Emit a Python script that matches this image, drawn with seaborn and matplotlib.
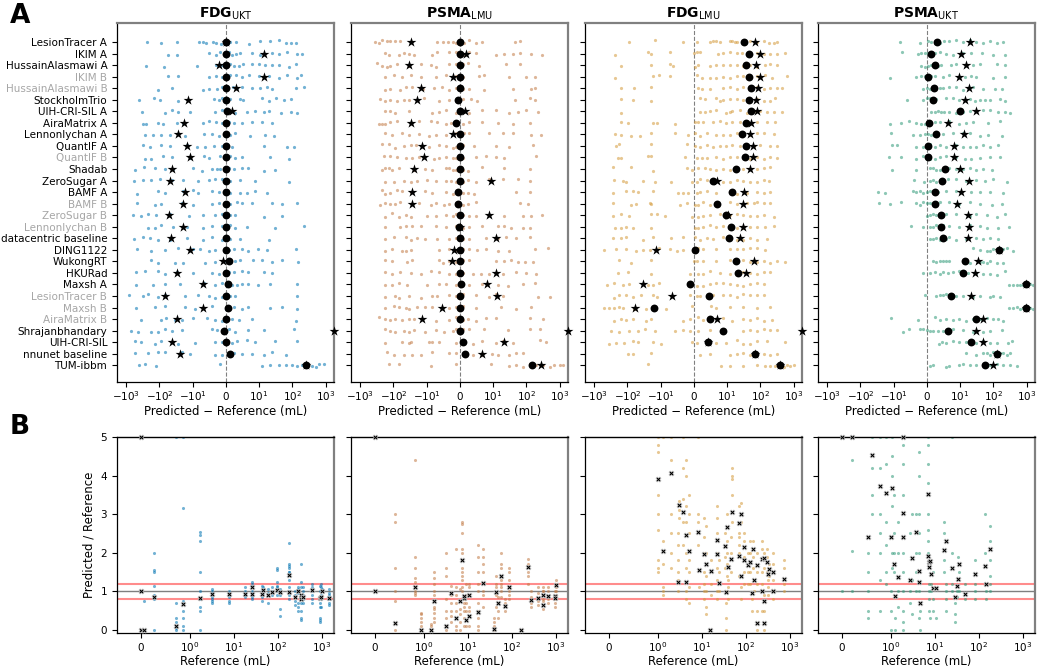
import numpy as np
import pandas as pd
import seaborn as sns
import matplotlib.pyplot as plt
from matplotlib.ticker import NullLocator

teams = ["LesionTracer A", "IKIM A", "HussainAlasmawi A", "IKIM B", "HussainAlasmawi B",
         "StockholmTrio", "UIH-CRI-SIL A", "AiraMatrix A", "Lennonlychan A", "QuantIF A",
         "QuantIF B", "Shadab", "ZeroSugar A", "BAMF A", "BAMF B", "ZeroSugar B",
         "Lennonlychan B", "datacentric baseline", "DING1122", "WukongRT", "HKURad",
         "Maxsh A", "LesionTracer B", "Maxsh B", "AiraMatrix B", "Shrajanbhandary",
         "UIH-CRI-SIL", "nnunet baseline", "TUM-ibbm"]
secondary = ["IKIM B", "HussainAlasmawi B", "QuantIF B", "BAMF B", "ZeroSugar B",
             "Lennonlychan B", "LesionTracer B", "Maxsh B", "AiraMatrix B"]

# ---- panel A: per-team median (dot) and mean (star) of Predicted - Reference (mL)
fdg_ukt_median = [0, 0, 0, 0, 0, 0, 0.3, 0, 0, 0, 0, 0, 0, 0, 0, 0, 0, 0, 0, 0.9, 0, 0.6, 0, 0.6, 0, -0.5, 0.1, 1.2, 250]
fdg_ukt_mean = [0, 14.5, -2, 14.5, 3.1, -14, 1.7, -18, -27, -15, -12, -42, -48, -17, -19, -51, -19, -45, -12, -1, -30, -6.9, -70, -6.9, -30, 1800, -42, -24, 250]
psma_lmu_median = [0, 0, 0, 0, 0, -0.6, 0, -1.1, 0, 0, 0, 0, 0, -0.7, -0.7, 0, -0.2, 0, -0.1, 0, 0, 0.3, -0.1, 0, 0, -0.1, 0.8, 1.5, 150]
psma_lmu_mean = [-30, 1.7, -35, -2.1, -15, -20, 1.6, -29, -2, -14, -12, -24, 9.4, -28, -28, 8.9, 0, 12, -1.7, -2.5, 12, 8.1, 13.5, -5.5, -13.5, 1800, 21, 6.6, 270]
fdg_lmu_median = [33, 45, 37, 45, 54, 46, 52, 38, 28, 38, 34, 19, 5.9, 14, 7.1, 9.8, 13.5, 11.5, 0.3, 18, 22, -1.1, 4.6, -16, 4.9, 8.7, 4.3, 67, 400]
fdg_lmu_mean = [70, 95, 76, 95, 83, 74, 81, 51, 48, 59, 60, 50, 7.1, 32, 31, 10.5, 30, 25, -14, 63, 36, -35, -6.5, -61, 6.9, 1800, 4.3, 70, 400]
psma_ukt_median = [3.1, 1.1, 2.4, 0.3, 2.2, 1.7, 10.2, 0.6, 2.8, 0.4, 0.2, 5.6, 4.6, 2.3, 2.4, 4.3, 4.2, 5, 145, 14, 12.3, 950, 7.4, 950, 30, 6.4, 22, 126, 56]
psma_ukt_mean = [20, 11, 15, 9.8, 18, 14, 30, 6.5, 13.5, 8.3, 8.1, 10.2, 18, 10.7, 9, 17, 18, 17, 145, 35, 28, 950, 21, 950, 48, 30, 48, 126, 100]

# per-case differences for each team (one list per team, in team order)
fdg_ukt_dots = [
    [-235, -87, -30, -8, -7, -6, -4, -3, -1.5, 0, 0.6, 1.3, 3, 7, 11, 21, 40, 63, 89, 125],
    [-57, -30, -5, -3, -1.7, -0.7, 0.8, 1.8, 3, 4.3, 8, 10.5, 25, 40, 70, 140, 190],
    [-260, -72, -8.7, -3, -1.2, 0.3, 1.3, 2.3, 4, 5.3, 8, 10, 15, 25, 40, 80, 126],
    [-57, -28, -5, -3, -1.2, 0.3, 1.3, 3, 5, 7, 10, 20, 40, 70, 140, 180],
    [-110, -43, -7, -5, -2.7, -1.2, 0.6, 2, 3.3, 5, 8, 11, 17, 25, 125, 225],
    [-400, -150, -97, -27, -3.7, -2.2, -1.2, 0, 1.3, 4.3, 5.3, 12, 20, 32, 56, 89],
    [-335, -70, -43, -27, -12, -3.2, -1.2, 0.3, 1.8, 2.8, 6.3, 8.8, 14, 20, 45, 89, 140],
    [-315, -250, -110, -77, -30, -19, -7, -5, -3, -1.2, 0.8, 2.3, 4.8, 8, 12, 25],
    [-280, -155, -87, -48, -27, -17, -6.7, -4.2, -2.2, 0, 1.3, 2.8, 7.3, 15, 28],
    [-315, -195, -87, -48, -15, -8.7, -6.2, -3.7, -1.2, 0.3, 1.8, 14, 70, 112],
    [-280, -175, -77, -43, -12, -6.7, -5.2, -1.7, 0, 1.3, 2.8, 4.8, 22, 80],
    [-530, -290, -140, -70, -39, -10, -7.3, -4.2, -2.7, -1.7, 0, 0.8, 2.3, 4.8, 6.8, 14, 30],
    [-580, -315, -175, -98, -43, -19, -8.3, -5.2, -3.2, -1.2, 0, 1.3, 4.3, 8.8, 80],
    [-470, -110, -70, -19, -10, -8.3, -4.2, -2.2, 0, 1.3, 4.3, 6.3, 8.8, 17],
    [-470, -140, -87, -21, -9.8, -4.2, -2.2, 0, 1.3, 3.3, 4.8, 7.8, 25, 50, 140],
    [-630, -350, -220, -123, -48, -13, -6.8, -3.2, -1.2, 0, 1.3, 2.8, 14, 50],
    [-220, -140, -87, -39, -15, -6.8, -4.2, -1.2, 0.3, 1.3, 2.8, 6.3, 30, 225],
    [-580, -315, -195, -110, -48, -15, -6.8, -4.2, -1.2, 0, 1.3, 4.3, 20],
    [-470, -175, -70, -27, -10, -7.7, -5.2, -3.2, -0.7, 0.8, 2.3, 4.8, 6.8, 9.8, 17, 125],
    [-175, -110, -34, -19, -6.2, -3.2, -0.7, 1.3, 2.8, 4.3, 8.3, 12, 25, 50, 150],
    [-500, -280, -110, -70, -30, -10, -4.2, -2.2, -0.7, 0.8, 2.3, 4.8, 6.8, 14, 25],
    [-500, -155, -70, -24, -6.7, -3.2, -1.2, 0.8, 1.8, 3.3, 4.8, 6.8, 9.8, 22, 140],
    [-800, -315, -220, -110, -70, -17, -8.3, -5.2, -3.2, -1.2, 0.3, 1.3, 2.8, 140],
    [-500, -140, -70, -17, -9.3, -4.2, 0, 1.3, 2.3, 4.8, 6.8, 22, 50, 140],
    [-350, -87, -62, -34, -21, -10, -5.7, -3.2, -1.2, 0.3, 1.8, 3.8, 7.8, 125],
    [-700, -440, -175, -110, -70, -43, -21, -4.2, -2.7, -1.2, 0, 0.8, 2.8, 6.8, 14, 112],
    [-560, -350, -140, -87, -27, -9.3, -3.2, -1.2, 0.3, 1.8, 3.3, 6.3, 8.8, 30, 140],
    [-560, -220, -110, -70, -21, -12, -3.2, -1.2, 0.8, 2.3, 4.8, 7.8, 14, 25, 63],
    [-400, -280, -125, -1.7, 12, 22, 40, 63, 100, 140, 200, 280, 400, 500, 630, 900],
]
psma_lmu_dots = [
    [-350, -280, -220, -155, -123, -87, -62, -6.8, -5.2, -3.7, -2.2, -1.2, 0.3, 1.3, 2.8, 4.8, 6.8, 45, 63],
    [-175, -140, -70, -48, -35, -24, -8.3, -6.8, -3.2, -1.2, 0.8, 2.8, 4.8, 12, 22, 40, 63, 140, 300],
    [-315, -220, -155, -123, -78, -35, -15, -8.8, -7.3, -3.2, -1.2, 0.8, 2.3, 5.8, 25, 63],
    [-175, -98, -55, -30, -15, -7.3, -4.2, -1.2, 0.8, 5.8, 7.3, 31, 100, 180],
    [-175, -123, -62, -43, -27, -13, -7.8, -5.3, -3.2, -1.2, 0.8, 2.8, 7.3, 40, 140, 180],
    [-250, -175, -123, -78, -48, -35, -12, -6.3, -3.2, -1.2, 0.8, 3.3, 5.3, 45, 125, 180],
    [-175, -123, -87, -35, -8.3, -6.3, -4.2, -1.2, 0.8, 2.8, 6.8, 12, 31, 56, 100, 225],
    [-280, -220, -175, -123, -78, -17, -8.8, -6.8, -4.2, -2.7, -1.2, 0.8, 2.8, 6.8, 14, 40, 125],
    [-175, -110, -55, -35, -17, -9.3, -7.3, -4.2, -1.2, 1.3, 2.8, 8.8, 20, 40, 140, 280],
    [-220, -140, -87, -48, -30, -21, -9.3, -6.3, -4.2, -2.2, -1.2, 0.8, 4.3, 12, 31, 160],
    [-195, -123, -78, -43, -27, -17, -7.8, -6.3, -4.2, -2.2, -1.2, 0.8, 4.8, 7.8, 12, 22, 200],
    [-220, -175, -140, -110, -70, -24, -11, -8.3, -4.2, -3.2, -2.2, -1.2, 0.8, 2.3, 6.8, 22, 125],
    [-175, -98, -48, -30, -19, -9.8, -7.3, -4.2, -2.7, -1.2, 0.8, 2.3, 4.8, 8.8, 20, 56, 125],
    [-220, -175, -123, -78, -55, -30, -11, -8.3, -4.2, -2.2, -1.2, 0.8, 2.3, 4.3, 50, 125],
    [-250, -175, -123, -87, -62, -27, -17, -8.8, -7.3, -4.7, -3.2, -1.2, 0.8, 2.3, 4.8, 63, 112],
    [-175, -110, -70, -43, -30, -10, -7.3, -4.2, -2.2, -1.2, 0.8, 2.8, 4.8, 22, 80, 140, 300],
    [-175, -62, -43, -27, -15, -7.3, -4.2, -1.2, 0.8, 2.8, 6.8, 14, 22, 35, 80, 125],
    [-175, -98, -43, -30, -19, -11, -6.8, -3.2, -1.2, 0.8, 2.8, 7.8, 14, 25, 50, 125],
    [-175, -110, -55, -43, -30, -6.3, -3.2, -1.2, 0.8, 2.8, 5.3, 7.8, 14, 31, 180, 450],
    [-175, -110, -39, -27, -6.3, -5.2, -3.2, -1.2, 0.8, 2.8, 12, 22, 35, 56, 89, 160],
    [-175, -110, -62, -30, -15, -8.8, -6.3, -3.2, -1.2, 0.8, 3.8, 6.3, 8.8, 20, 50, 100, 200],
    [-175, -110, -70, -39, -10, -6.3, -4.2, -1.2, 0.8, 2.8, 6.8, 14, 28, 80, 180],
    [-175, -87, -70, -35, -15, -8.3, -6.8, -3.2, -1.2, 0.8, 4.8, 8.8, 12, 20, 225, 500],
    [-175, -98, -70, -43, -35, -19, -11, -8.3, -3.2, -1.2, 0.8, 4.8, 17, 50, 140],
    [-280, -175, -123, -87, -55, -35, -24, -7.3, -3.2, -1.2, 0.8, 2.3, 4.8, 7.8, 12, 125, 320],
    [-175, -123, -87, -48, -35, -24, -11, -7.3, -4.7, -2.2, -1.2, 0.8, 2.8, 7.3, 28, 125, 250],
    [-175, -55, -35, -30, -9.3, -8.3, -6.3, -1.2, 1.3, 3.8, 6.8, 12, 20, 40, 250, 400],
    [-155, -98, -48, -27, -15, -8.3, -3.2, -1.2, 1.8, 3.8, 6.8, 9.8, 14, 31, 50, 80],
    [-140, -70, -8.8, -1.2, 9.4, 31, 50, 80, 125, 200, 320, 500, 700, 1000, 1250],
]
fdg_lmu_dots = [
    [-93, -15, -3.2, 0.8, 4.8, 5.8, 6.8, 7.8, 12, 14, 17, 20, 50, 80, 125, 180, 250, 320],
    [-235, -24, -19, -7.3, 0, 0.8, 1.8, 7.3, 8.8, 12, 20, 28, 45, 80, 125, 200, 320, 560],
    [-160, -19, -7.3, -6.3, 0.3, 1.3, 4.8, 6.8, 8.8, 12, 20, 31, 50, 80, 140, 200, 320],
    [-235, -17, -11, -7.3, 0.8, 2.3, 4.8, 6.8, 8.8, 12, 20, 31, 50, 80, 140, 225, 630],
    [-160, -62, -19, 1.3, 2.3, 4.8, 8.8, 12, 20, 31, 50, 80, 125, 200, 320, 450],
    [-160, -70, -19, 1.8, 3.3, 6.8, 7.8, 8.8, 12, 20, 31, 50, 80, 125, 200, 280],
    [-160, 1.8, 3.3, 4.8, 6.8, 9.8, 12, 14, 25, 40, 63, 100, 160, 250, 450],
    [-160, -98, -17, -13, -5.7, 0.3, 1.3, 2.8, 5.8, 7.8, 9.8, 14, 25, 40, 80, 160, 280],
    [-235, -155, -78, -43, -19, -5.7, -1.7, 0.3, 1.8, 3.8, 6.8, 8.8, 12, 20, 31, 50, 80, 125, 250],
    [-220, -175, -19, -2.2, 0.3, 1.8, 3.8, 5.8, 7.8, 9.8, 14, 25, 40, 63, 100, 200, 320],
    [-195, -155, -24, -19, -2.7, 0.8, 2.3, 3.8, 6.8, 8.8, 12, 20, 31, 50, 80, 125, 200, 320],
    [-265, -78, -17, -2.2, -0.7, 1.3, 3.3, 4.8, 6.8, 8.8, 12, 20, 31, 80, 125, 200],
    [-250, -140, -110, -35, -15, -6.8, -0.7, 0.8, 1.8, 3.8, 6.3, 8.8, 12, 20, 31, 50, 80, 125, 180],
    [-265, -110, -70, -48, -17, -4.7, -3.2, -1.7, 0.8, 1.8, 3.8, 6.8, 12, 20, 40, 80, 125, 200],
    [-265, -78, -55, -21, -19, -4.2, -2.2, 0.3, 1.3, 2.8, 4.8, 6.8, 12, 20, 40, 63, 80, 125, 200],
    [-265, -155, -87, -19, -13, -8.8, -0.7, 1.3, 2.8, 4.8, 7.8, 12, 20, 31, 50, 80, 125, 250],
    [-235, -155, -110, -70, -19, 0.3, 1.3, 2.8, 4.8, 6.8, 8.8, 12, 20, 31, 50, 80, 140, 250],
    [-265, -155, -110, -35, -17, -6.8, -3.2, 0.3, 1.8, 3.8, 5.8, 8.8, 12, 20, 31, 50, 80, 160],
    [-500, -220, -110, -55, -35, -21, -11, -7.3, -5.2, -3.2, 0, 1.3, 2.8, 6.8, 12, 20, 31, 50, 80, 140],
    [-175, -78, -19, 0, 0.8, 2.8, 6.8, 12, 20, 31, 50, 80, 125, 200, 320, 560],
    [-195, -98, -19, -1.2, 1.3, 2.8, 4.8, 7.8, 12, 20, 31, 50, 80, 125, 200],
    [-400, -250, -140, -87, -24, -17, -11, 0.8, 2.8, 4.8, 6.8, 8.8, 12, 20, 31, 50, 80, 125],
    [-250, -175, -110, -70, -39, -17, -13, -1.2, 0.8, 1.8, 5.8, 8.8, 12, 20, 31, 50, 80, 125],
    [-500, -350, -250, -175, -140, -62, -27, -17, -8.3, -0.7, 5.3, 6.8, 12, 31, 80, 200],
    [-250, -155, -110, -70, -27, -19, -3.2, -1.2, 1.3, 2.8, 4.8, 8.8, 14, 31, 50, 80, 125, 225],
    [-315, -175, -87, -48, -30, -15, -5.7, -3.2, -1.2, 1.3, 4.8, 8.8, 31, 50, 80, 125, 200, 320],
    [-350, -220, -123, -70, -48, -17, -10, -0.7, 0.8, 6.8, 9.8, 20, 31, 50, 80, 160, 560],
    [-98, -70, -19, 1.8, 4.8, 12, 20, 31, 50, 80, 125, 200, 320],
    [-24, 8.3, 12, 31, 80, 140, 200, 280, 400, 500, 630, 800, 1000],
]
psma_ukt_dots = [
    [-8, -2, 0.3, 1.3, 2.3, 3.8, 5.3, 6.8, 8.8, 12, 20, 31, 50, 80, 125, 200],
    [-7.4, -2.7, -1.7, -0.7, 0.3, 1.3, 2.3, 3.8, 5.8, 7.8, 12, 22, 45, 100, 225],
    [-1.7, -0.7, 0.3, 1.3, 2.3, 3.3, 4.3, 7.3, 8.8, 15, 25, 40, 125, 225],
    [-13, -3.2, -1.7, -0.7, 0.3, 1.3, 2.3, 4.8, 6.8, 14, 22, 31, 100, 225],
    [-1.2, 0, 0.8, 1.8, 2.8, 3.8, 4.8, 6.8, 8.8, 12, 25, 50, 112, 180],
    [-6, -1.2, 0, 0.8, 1.8, 2.8, 5.8, 7.8, 9.8, 20, 28, 40, 56, 80, 160, 225],
    [1.3, 2.3, 3.3, 4.3, 5.3, 6.8, 8.8, 12, 20, 31, 50, 80, 140, 225, 320],
    [-13, -7.8, -5.3, -3.2, -1.7, -0.7, 0.3, 1.3, 2.3, 3.8, 6.8, 9.8, 15, 25, 70, 160],
    [-12, -4.2, -2.2, -0.7, 0.3, 1.3, 2.8, 4.8, 7.8, 12, 20, 40, 70, 180],
    [-11, -9.1, -3.2, -1.2, 0, 0.8, 2.3, 3.8, 5.8, 8.8, 12, 20, 31, 50, 80, 140],
    [-13.5, -7.8, -3.2, -1.2, 0, 0.8, 2.3, 3.8, 5.8, 8.8, 14, 22, 40, 80, 160],
    [-11, -3.4, 0.8, 1.8, 2.8, 3.8, 5.3, 6.8, 8.8, 12, 20, 31, 50, 90],
    [-4, -1, 0.8, 1.8, 2.8, 3.8, 4.8, 6.3, 8.8, 15, 31, 56, 100, 250],
    [-30, -18, -4.2, -3.2, -2.2, -1.2, 0, 0.8, 1.8, 3.3, 5.8, 8.8, 22, 40, 80, 200],
    [-28, -13, -7.8, -3.2, -2.2, -1.2, 0, 0.8, 2.3, 3.8, 6.8, 9.8, 20, 40, 90, 180],
    [0, 0.8, 1.8, 2.8, 3.8, 4.8, 5.8, 8.8, 20, 31, 63, 125, 225],
    [-4.9, -1.2, 0.8, 1.8, 2.8, 3.8, 4.8, 6.8, 9.8, 20, 40, 63, 140, 300],
    [0.8, 1.8, 2.8, 3.8, 4.8, 5.8, 6.8, 8.8, 15, 31, 50, 80, 140],
    [25, 40, 63, 80, 100, 125, 160, 200, 250, 400],
    [1.8, 2.8, 3.8, 4.8, 5.8, 6.8, 20, 40, 50, 63, 80, 125, 200],
    [-1.2, 0.8, 2.3, 3.8, 4.8, 6.3, 7.8, 9.8, 17, 31, 50, 80, 125, 225],
    [300, 400, 500, 630, 800, 1000, 1300, 1600, 1800],
    [-0.7, 2.8, 3.8, 4.8, 5.8, 6.8, 7.8, 8.8, 12, 25, 40, 80, 100, 160],
    [300, 400, 500, 630, 800, 1000, 1300, 1600, 1800],
    [-12, -2.7, 2.3, 3.8, 5.8, 7.8, 9.8, 15, 25, 40, 63, 100, 140, 200],
    [-7.3, -5.3, -2.2, -1.2, 0, 0.8, 1.8, 3.3, 4.8, 7.8, 12, 25, 50, 80, 180],
    [3.6, 4.6, 5.8, 7.8, 9.8, 15, 20, 25, 31, 50, 80, 125, 280, 360],
    [15, 31, 50, 63, 80, 100, 125, 160, 200, 250, 320],
    [0.8, 1.8, 5.8, 6.8, 9.8, 12, 20, 31, 50, 80, 125, 200, 320, 500],
]

# ---- panel B: per case reference volume, median ratio and team ratios (clipped at 5)
fdg_ukt_ref = [0, 0, 0, 0.05, 0.25, 0.72, 0.85, 1.7, 3.2, 7.5, 18, 26, 26, 43, 45, 58, 72, 95, 110, 178, 182, 250, 290, 330, 330, 380, 600, 890, 980, 1000, 1480]
fdg_ukt_ratio = [5, 1.0, 0, 0, 0.86, 0.1, 0.67, 0.82, 0.93, 0.93, 0.93, 1.1, 0.93, 0.93, 1.04, 0.91, 0.98, 1.04, 0.97, 0.98, 1.43, 0.85, 1.0, 0.91, 0.8, 0.86, 1.04, 0.82, 0.86, 1.02, 0.84]
fdg_ukt_team_ratios = [
    [5], [1.0], [0], [0, 0.75], [2.0, 1.55, 1.5, 1.15, 0.9, 0.8, 0], [5, 0.7, 0.3, 0.2, 0.1, 0.05, 0],
    [5, 3.15, 0.75, 0.5, 0.3, 0.1, 0], [2.55, 2.45, 2.3, 1.5, 1.0, 0.8, 0.6, 0.5, 0],
    [1.05, 1.0, 0.95, 0.85, 0.8, 0.75, 0.7], [1.0, 0.95, 0.85, 0.75, 0.7], [1.1, 1.0, 0.9, 0.85],
    [1.25, 1.2, 1.1, 1.0, 0.95, 0.8], [0.9, 0.85], [1.15, 1.0, 0.85, 0.75], [1.1, 0.95],
    [1.05, 0.95, 0.9, 0.7], [1.1, 1.0, 0.9], [1.6, 1.55, 1.25, 1.15, 1.1, 1.0, 0.9],
    [1.05, 0.9, 0.55, 0.35], [1.7, 1.65, 1.6, 1.5, 1.3, 1.1, 1.0, 0.9, 0.8], [2.25, 1.5],
    [1.0, 0.9, 0.85, 0.75, 0.65], [1.1, 1.05, 0.95, 0.7, 0.6, 0.5], [1.7, 1.25, 1.1, 0.7],
    [0.5, 0.3, 0.25], [1.1, 1.0, 0.9, 0.8, 0.7], [1.2, 1.1, 1.0, 0.9, 0.8, 0.7],
    [1.15, 1.0, 0.7, 0.6, 0.3, 0.25, 0.2], [1.2, 1.1, 1.0, 0.9, 0.8, 0.6], [1.05],
    [1.05, 0.95, 0.9, 0.8, 0.7, 0.65],
]
psma_lmu_ref = [0, 0, 0.41, 0.82, 0.94, 1.47, 1.7, 3.2, 4.2, 5.2, 6.6, 7.3, 8, 8, 8.9, 10.4, 10.4, 17, 22, 40, 43, 47, 56, 69, 85, 158, 235, 275, 390, 500, 510, 660, 950, 960, 1000]
psma_lmu_ratio = [5, 1.0, 0.19, 1.1, 0, 0, 0.76, 0.1, 0.95, 0.32, 0.76, 1.8, 0.82, 0.87, 0.26, 0.35, 0.9, 0.47, 1.22, 0.03, 0.97, 0.7, 1.4, 0.61, 1.11, 0, 1.62, 0.77, 0.82, 0.64, 0.91, 0.89, 0.89, 0.82, 1.16]
psma_lmu_team_ratios = [
    [5], [1.0], [3.0, 2.8, 1.6, 1.0, 0.75, 0.19, 0], [4.4, 1.9, 1.6, 1.35, 1.25, 1.1, 1.0, 0.95, 0.9],
    [0.45, 0.4, 0.3, 0.2, 0.1, 0], [0.15, 0.1, 0], [1.5, 1.35, 1.2, 1.0, 0.9, 0.6, 0.55, 0.45, 0.3, 0.2],
    [2.0, 1.6, 1.4, 0.8, 0.5, 0.3, 0.1, 0], [1.15, 0.9, 0.7, 0.5, 0.35, 0.2], [2.1, 1.1, 0.9, 0.7, 0.5, 0.1, 0],
    [1.05, 0.55, 0.4, 0.2, 0], [2.8, 2.75, 2.5, 2.1, 2.0, 1.6, 1.5, 1.4, 1.3, 1.1, 1.0], [0.8, 0.7, 0.6],
    [0.5, 0.3, 0.1], [1.2, 0.9, 0.7, 0.5, 0.1], [0.6, 0.5, 0.1], [1.2, 1.1, 0.9],
    [2.2, 1.9, 1.5, 1.2, 1.0, 0.7, 0.5, 0.3, 0.1, 0], [2.1, 1.9, 1.7, 1.5, 1.0, 0.9, 0.6],
    [0.3, 0.2, 0.1, 0.05, 0], [1.4, 1.2, 1.1, 0.9, 0.6], [0.85, 0.7, 0.5, 0.3],
    [2.0, 1.7, 1.6, 1.3, 1.2, 1.1, 1.0, 0.85], [0.8, 0.7, 0.5], [1.6, 1.5, 1.3, 1.0, 0.9, 0.8], [0],
    [1.85, 1.7, 1.5, 1.4, 1.2], [1.0, 0.85, 0.7, 0.6], [1.1, 0.95, 0.75, 0.65], [1.0, 0.9, 0.75, 0.55],
    [1.1, 1.0, 0.8], [1.1, 1.0, 0.8, 0.7], [1.2, 1.0, 0.8, 0.7], [0.6], [1.3, 1.2, 1.1, 1.0, 0.9],
]
fdg_lmu_ref = [1.0, 1.3, 1.95, 2.9, 3.0, 3.7, 4.3, 4.4, 5.1, 8.1, 8.4, 11, 12.6, 15, 16, 22, 22, 24.5, 33, 36, 38, 40, 45, 49, 68, 71, 77, 78, 89, 89, 112, 126, 135, 142, 150, 178, 178, 228, 233, 253, 253, 253, 310, 315, 330, 405, 405, 725]
fdg_lmu_ratio = [3.9, 2.04, 4.06, 1.25, 3.24, 3.06, 1.25, 2.47, 2.04, 2.53, 1.56, 1.96, 1.72, 0.0, 1.52, 2.34, 1.96, 1.22, 2.17, 0.98, 2.67, 1.63, 1.85, 3.05, 1.91, 2.76, 3.0, 1.4, 2.14, 1.82, 1.69, 1.76, 0.96, 2.11, 1.3, 1.69, 0.19, 1.0, 1.84, 1.87, 0.76, 0.18, 1.76, 1.46, 1.59, 1.02, 1.5, 1.33]
fdg_lmu_team_ratios = [
    [5, 4.8, 4.6, 3.5, 3.0, 2.6, 1.8, 1.6, 1.5], [5, 2.3, 1.7, 1.1, 1.0, 0.9], [5, 4.4, 3.0, 2.5, 2.0, 1.6],
    [2.5, 2.2, 1.8, 1.5, 1.3, 1.0], [3.35, 3.1, 2.9], [5, 4.2, 3.4, 2.8, 2.2], [1.6, 1.0, 0.8],
    [4.4, 4.0, 3.2, 2.8, 2.0], [3.5, 3.0, 2.5, 1.8, 1.5, 1.1, 0.7], [5, 3.0, 2.8, 2.2], [1.56, 1.1],
    [2.9, 2.4, 2.0, 1.5, 1.2, 1.0, 0.8], [2.7, 2.0, 1.4, 1.0, 0.6, 0.4], [0], [1.8, 1.2, 0.9],
    [3.2, 2.9, 2.5, 2.0, 1.6], [1.3, 1.0, 0.8], [1.8, 1.5, 1.0], [2.5, 1.9, 1.6], [0.7, 0.3, 0.0],
    [3.0, 2.3, 2.0, 1.7, 1.4, 1.0], [1.3, 1.1, 0.8], [2.4, 2.0, 1.5], [4.2, 4.0, 3.9, 3.5, 2.8],
    [2.4, 2.0, 1.4], [3.2, 2.5, 2.2], [3.3, 2.8], [1.1, 0.8], [2.5, 2.3, 1.9], [1.5, 1.2],
    [2.0, 1.5, 1.2], [2.3, 2.0, 1.5, 1.2], [0.8, 0.5], [2.3, 1.9, 1.6], [1.3, 1.0], [2.0, 1.5, 1.2],
    [0.5, 0.0], [1.2, 1.0, 0.5], [2.3, 2.1, 1.5], [2.0, 1.6], [0.9, 0.5], [0.0], [2.1, 1.9, 1.5],
    [1.3, 1.1, 0.9], [1.7, 1.4], [1.3, 1.0, 0.8], [2.0, 1.7], [1.8, 1.6, 1.2, 1.0],
]
psma_ukt_ref = [0, 0.19, 1.9, 0.61, 0.77, 0.89, 1.05, 0.52, 1.0, 1.15, 1.2, 1.4, 1.84, 1.9, 2.75, 3.05, 3.6, 4.3, 4.4, 4.6, 6.8, 7.0, 7.2, 7.3, 7.6, 8, 8.9, 10.4, 16, 18, 25, 29, 31, 33, 36, 48, 83, 141, 148, 178]
psma_ukt_ratio = [5, 5, 5, 4.54, 3.73, 3.54, 3.67, 2.41, 2.4, 1.7, 0.87, 1.37, 2.4, 3.02, 1.3, 1.87, 2.53, 1.52, 1.24, 0.7, 1.92, 3.52, 1.63, 1.76, 1.79, 1.46, 1.09, 1.08, 2.07, 2.31, 1.6, 0.85, 1.15, 1.33, 1.72, 0.94, 1.46, 1.65, 1.2, 2.09]
psma_ukt_team_ratios = [
    [5, 1.0], [5, 4.4, 2.05, 1.0], [5], [5, 4.2, 3.5, 3.0], [5, 4.2, 3.0, 2.5, 2.0, 1.3, 0.5],
    [5, 4.3, 2.8, 2.2, 1.5, 1.2], [5, 4.5, 4.0, 3.2, 2.0, 1.6], [2.0, 1.5, 1.0, 0.5, 0.3],
    [2.4, 1.0, 0.5, 0.0], [3.5, 2.5, 2.0, 1.5], [0.3, 0.0], [2.8, 2.0, 1.0, 0.6],
    [5, 4.8, 4.3, 3.5, 2.0, 1.5], [1.0, 0.5, 0.2, 0], [2.5, 1.0, 0.7], [3.0, 1.3, 0.4],
    [3.0, 2.0, 1.5, 1.0], [4.6, 4.0, 3.0, 2.5, 2.0], [1.0, 0.3], [0.0, 0.5], [5, 4.8, 4.3, 3.8],
    [3.0, 2.6, 2.3, 2.0], [1.2, 1.0], [0.8, 0.5], [0.3], [1.2, 1.0], [1.5, 0.8, 0.5], [0.3],
    [2.8, 2.5, 1.8, 1.5], [1.2, 1.0, 0.8, 0.5], [5, 2.0, 1.2, 1.0], [0.7, 0.4, 0.2], [1.0, 0.85],
    [1.9], [1.5, 1.0], [1.2, 0.8], [1.8, 1.2, 1.0, 0.8], [3.0, 2.0, 1.2], [1.0, 0.8],
    [2.7, 2.3, 1.8, 1.4, 1.2, 1.0],
]

pal = sns.color_palette("colorblind")
panels = [
    ("FDG", "UKT", pal[0], fdg_ukt_dots, fdg_ukt_median, fdg_ukt_mean, fdg_ukt_ref, fdg_ukt_ratio, fdg_ukt_team_ratios),
    ("PSMA", "LMU", "#c27a45", psma_lmu_dots, psma_lmu_median, psma_lmu_mean, psma_lmu_ref, psma_lmu_ratio, psma_lmu_team_ratios),
    ("FDG", "LMU", "#d49a3a", fdg_lmu_dots, fdg_lmu_median, fdg_lmu_mean, fdg_lmu_ref, fdg_lmu_ratio, fdg_lmu_team_ratios),
    ("PSMA", "UKT", "#2f9a78", psma_ukt_dots, psma_ukt_median, psma_ukt_mean, psma_ukt_ref, psma_ukt_ratio, psma_ukt_team_ratios),
]

W, H = 1042, 670
fig = plt.figure(figsize=(W / 100, H / 100), dpi=100)
lefts = [117, 351, 585, 818]
aw = 217


def frame(ax, top_color):
    for s in ["left", "bottom"]:
        ax.spines[s].set_color("black")
        ax.spines[s].set_linewidth(0.9)
    ax.spines["top"].set_color(top_color)
    ax.spines["top"].set_linewidth(1.6 if top_color != "black" else 1.0)
    ax.spines["right"].set_color("#808080")
    ax.spines["right"].set_linewidth(1.6)


ypos = np.arange(len(teams))
for i, (tracer, site, col, dots, med, mean, ref, ratio, team_ratios) in enumerate(panels):
    # ---------------- A
    ax = fig.add_axes([lefts[i] / W, 1 - 382 / H, aw / W, 359 / H])
    df = pd.DataFrame([(t, v) for t, vals in zip(teams, dots) for v in vals], columns=["team", "diff"])
    np.random.seed(i)
    sns.stripplot(data=df, x="diff", y="team", order=teams, color=col, size=2.3,
                  alpha=0.55, jitter=0.15, linewidth=0, ax=ax, zorder=1)
    ax.axvline(0, color="gray", ls="--", lw=0.8, zorder=0)
    ax.scatter(mean, ypos, marker="*", s=55, color="black", zorder=3, clip_on=False, linewidths=0)
    ax.scatter(med, ypos, marker="o", s=32, color="black", zorder=4, linewidths=0)
    ax.set_xscale("symlog", linthresh=10, linscale=0.9)
    ax.xaxis.set_minor_locator(NullLocator())
    ax.set_xlim(-1900, 1800)
    ax.set_ylim(29.45, -1.65)
    ax.set_yticks(ypos)
    if i == 0:
        ax.set_yticklabels(teams, fontsize=7.5)
        for lab in ax.get_yticklabels():
            if lab.get_text() in secondary:
                lab.set_color("#a6a6a6")
    else:
        ax.set_yticklabels([])
    ax.set_ylabel("")
    ax.set_xlabel("Predicted \u2212 Reference (mL)", fontsize=8.5, labelpad=1)
    ax.tick_params(axis="x", labelsize=7.5, pad=2)
    ax.set_title(r"$\mathbf{%s}_{\mathrm{%s}}$" % (tracer, site), fontsize=10, pad=4)
    frame(ax, "#808080")

    # ---------------- B
    bx = fig.add_axes([lefts[i] / W, 1 - 633 / H, aw / W, 196 / H])
    bd = pd.DataFrame([(r, v) for r, vals in zip(ref, team_ratios) for v in vals], columns=["ref", "ratio"])
    sns.scatterplot(data=bd, x="ref", y="ratio", color=col, s=5, alpha=0.55, linewidth=0, ax=bx, zorder=2)
    bx.axhline(1.0, color="#7f7f7f", lw=1.0, zorder=1)
    bx.axhline(0.8, color="red", alpha=0.45, lw=1.5, zorder=1)
    bx.axhline(1.2, color="red", alpha=0.45, lw=1.5, zorder=1)
    bx.scatter(ref, ratio, marker="X", s=14, color="black", edgecolors="#d0d0d0",
               linewidths=0.5, zorder=4, clip_on=False)
    bx.set_xscale("symlog", linthresh=1)
    bx.xaxis.set_minor_locator(NullLocator())
    bx.set_xlim(-0.5, 1900)
    bx.set_ylim(-0.08, 5)
    bx.set_yticks([0, 1, 2, 3, 4, 5])
    if i == 0:
        bx.set_ylabel("Predicted / Reference", fontsize=8.5)
        bx.tick_params(axis="y", labelsize=7.5)
    else:
        bx.set_yticklabels([])
        bx.set_ylabel("")
    bx.set_xlabel("Reference (mL)", fontsize=8.5, labelpad=0.5)
    bx.tick_params(axis="x", labelsize=7.5, pad=2)
    frame(bx, "black")

fig.text(10 / W, 1 - 3 / H, "A", fontsize=19, fontweight="bold", va="top", ha="left")
fig.text(10 / W, 1 - 414 / H, "B", fontsize=19, fontweight="bold", va="top", ha="left")

fig.savefig("out.png", dpi=100)
